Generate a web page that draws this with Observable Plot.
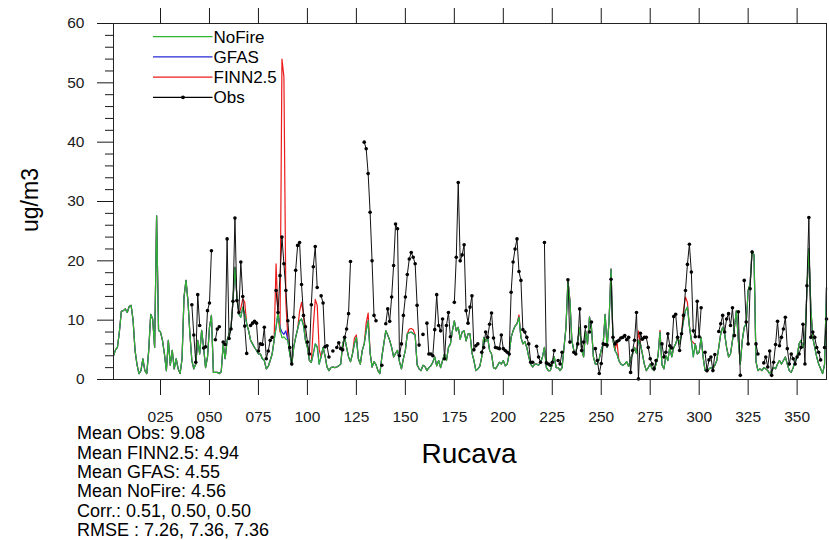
<!DOCTYPE html>
<html><head><meta charset="utf-8">
<script src="https://cdn.jsdelivr.net/npm/d3@7"></script>
<script src="https://cdn.jsdelivr.net/npm/@observablehq/plot@0.6"></script>
<style>
body{margin:0;background:#fff;font-family:"Liberation Sans",Arial,Helvetica,sans-serif;}
#wrap{position:relative;width:829px;height:540px;overflow:hidden;background:#fff;}
#wrap svg{position:absolute;left:0;top:0;}
</style></head><body><div id="wrap"></div>
<script>
// Daily values, day 1..365
const nofire = [4,5,5.4,8,11.5,11.6,11.9,11.3,12.3,12.5,
10,4.9,2.5,1,1.5,3.5,1.5,1,5,11,
10.2,5.4,27.6,8.3,8,6.6,4.3,1.5,6.6,2.4,
4.9,1.8,3.5,1.8,1,3.5,13.9,16.7,13.3,7.7,
3.2,1.8,2.6,6.6,4.3,8.3,5.4,2,3.8,8.8,
10.8,1.2,1.2,1.2,1,1.3,6,3.5,6.6,7.7,
8.8,13.3,18.9,14,11,10.5,12.2,11,9.4,8.2,
6.6,6,5.4,4.9,4.3,4.3,3.5,3.2,1.8,2.2,
3.2,4.3,6.6,8.8,11.3,8.5,7,7.2,6.8,6.6,
4.3,2.4,5.4,7.1,8.5,9.9,10.2,9.1,6.6,5.4,
3.2,2.9,4.3,6,5.5,2.6,3.8,5.4,4,2.1,
1.5,2,2.1,2,2.1,2.3,2.6,6,7.1,5.4,
3.8,3,4.3,6,7.1,3.5,2.6,4.9,6,8.2,
9.9,4.5,2.1,3,2.5,1.5,1,3.8,6,8.2,
7.5,6.6,5.4,3.8,4.4,4.9,3,1.8,3.5,4.9,
7.7,7.9,8,7.7,7.5,2.5,1.8,1.5,2.4,2.2,
1.5,2,2.3,2.9,3.8,2.3,3.2,2,3.2,4.3,
3.2,5.4,6,8.2,9.9,8.2,8.8,6.8,8,8.2,
6.5,7.7,7.7,4.5,3.2,1.5,1.8,2.2,3.8,7.1,
6.4,7.1,4.9,4.3,2,1.8,2.3,2.9,2.6,3.2,
2.3,2.6,4.3,7.1,8.2,9,9.4,10.5,7.1,6,
6.4,5.4,3.8,2.6,2.1,2.6,2.6,2.4,2.9,3.8,
5.4,2,1.5,1.5,2.5,3.8,2,2,1.5,2,
5.4,8.8,16.7,13.3,6.6,4.9,4.3,6.6,8.8,5,
3.8,8.2,6,10.5,8.8,3.8,2.6,2.6,3.5,5,
6,11,5.4,9.9,18.6,6.6,4.9,4.3,3.2,2.6,
2.4,2.6,3,2.2,3.5,4.3,5.4,4.4,6.6,6,
4.3,2.6,1.5,2,2.6,1.8,1.5,2.6,4,8,
2.5,1.8,4,3.2,5.4,3.8,5.4,6,7.1,6,
7.7,9.9,11.6,12.2,9,6.6,3.8,6,4.3,4.6,
7.1,3.8,1.5,1.3,1.8,2,1.8,2.4,3.2,5.4,
7.7,8.8,7.7,5.4,3.8,4.3,6.6,8.8,11.6,6.6,
2.6,6.6,8.8,9.4,15,16.1,21.7,21,3,1.5,
1.8,1.5,2,1.8,1.5,1,1.5,2,1.8,2.6,
3.2,2.6,3.2,3.8,2.6,1.5,1.2,2,3.2,3.8,
6,6.6,5.4,6.6,15,22,12,7,5.4,3.8,
2.6,1.8,1,2.5,15.5];

const gfas = [4,5,5.4,8,11.5,11.6,11.9,11.3,12.3,12.5,
10,4.9,2.5,1,1.5,3.5,1.5,1,5,11,
10.2,5.4,27.6,8.3,8,6.6,4.3,1.5,6.6,2.4,
4.9,1.8,3.5,1.8,1,3.5,13.9,16.7,13.3,7.7,
3.2,1.8,2.6,6.6,4.3,8.3,5.4,2,3.8,8.8,
10.8,1.2,1.2,1.2,1,1.3,6,3.5,6.6,7.7,
8.8,13.3,18.9,14,11,10.5,12.2,11,9.4,8.2,
6.6,6,5.4,4.9,4.3,4.3,3.5,3.2,1.8,2.2,
3.2,4.3,6.6,8.8,11.3,8.8,8,7.6,8.2,6.6,
4.3,2.4,5.4,7.1,8.5,9.9,10.2,9.1,6.6,5.4,
3.2,2.9,4.3,6,5.5,2.6,3.8,5.4,4,2.1,
1.5,2,2.1,2,2.1,2.3,2.6,6,7.1,5.4,
3.8,3,4.3,6,7.1,3.5,2.6,4.9,6,8.2,
9.9,4.5,2.1,3,2.5,1.5,1,3.8,6,8.2,
7.5,6.6,5.4,3.8,4.4,4.9,3,1.8,3.5,4.9,
7.7,7.9,8,7.7,7.5,2.5,1.8,1.5,2.4,2.2,
1.5,2,2.3,2.9,3.8,2.3,3.2,2,3.2,4.3,
3.2,5.4,6,8.2,9.9,8.2,8.8,6.8,8,8.2,
6.5,7.7,7.7,4.5,3.2,1.5,1.8,2.2,3.8,7.1,
6.4,7.1,4.9,4.3,2,1.8,2.3,2.9,2.6,3.2,
2.3,2.6,4.3,7.1,8.2,9,9.4,10.5,7.1,6,
6.4,5.4,3.8,2.6,2.1,2.6,2.6,2.4,2.9,3.8,
5.4,2,1.5,1.5,2.5,3.8,2,2,1.5,2,
5.4,8.8,16.7,13.3,6.6,4.9,4.3,6.6,8.8,5,
3.8,8.2,6,10.5,8.8,3.8,2.6,2.6,3.5,5,
6,11,5.4,9.9,18.6,6.6,4.9,4.3,3.2,2.6,
2.4,2.6,3,2.2,3.5,4.3,5.4,4.4,6.6,6,
4.3,2.6,1.5,2,2.6,1.8,1.5,2.6,4,8,
2.5,1.8,4,3.2,5.4,3.8,5.4,6,7.1,6,
7.7,9.9,11.6,12.2,9,6.6,3.8,6,4.3,4.6,
7.1,3.8,1.5,1.3,1.8,2,1.8,2.4,3.2,5.4,
7.7,8.8,7.7,5.4,3.8,4.3,6.6,8.8,11.6,6.6,
2.6,6.6,8.8,9.4,15,16.1,21.7,21,3,1.5,
1.8,1.5,2,1.8,1.5,1,1.5,2,1.8,2.6,
3.2,2.6,3.2,3.8,2.6,1.5,1.2,2,3.2,3.8,
6,6.6,5.4,6.6,15,22,12,7,5.4,3.8,
2.6,1.8,1,2.5,15.5];

const finn = [4,5,5.4,8,11.5,11.6,11.9,11.3,12.3,12.5,
10,4.9,2.5,1,1.5,3.5,1.5,1,5,11,
10.2,5.4,27.6,8.3,8,6.6,4.3,1.5,6.6,2.4,
4.9,1.8,3.5,1.8,1,3.5,13.9,16.7,13.3,7.7,
3.2,1.8,2.6,6.6,4.3,8.3,5.4,2,3.8,8.8,
10.8,1.2,1.2,1.2,1,1.3,6,3.5,6.6,7.7,
8.8,13.3,18.9,14,11,12,13.6,13,9.4,8.2,
6.6,6,5.4,4.9,4.3,4.3,3.5,3.2,1.8,2.2,
3.2,4.3,6.6,19.5,10.5,8,54,51,13,7,
4.3,2.4,5.4,7.1,8.5,11.5,13,11,6.6,5.4,
3.2,2.9,9,13.5,12.5,5,3.8,5.4,4,2.1,
1.5,2,2.1,2,2.1,2.3,2.6,6,7.1,5.4,
3.8,3,4.3,7,7.5,3.5,2.6,4.9,6,9.5,
11.2,4.5,2.1,3,2.5,1.5,1,3.8,6,8.2,
7.5,6.6,5.4,3.8,4.4,4.9,3,1.8,3.5,4.9,
7.7,8.5,8.6,8.4,7.5,2.5,1.8,1.5,2.4,2.2,
1.5,2,2.3,2.9,3.8,2.3,3.2,2,3.2,4.3,
3.2,5.4,6,8.2,9.9,8.2,8.8,6.8,8,8.2,
6.5,7.7,7.7,4.5,3.2,1.5,1.8,2.2,3.8,7.1,
6.4,7.1,4.9,4.3,2,1.8,2.3,2.9,2.6,3.2,
2.3,2.6,4.3,7.1,8.2,9,9.4,10.9,7.1,6,
6.4,5.4,3.8,2.6,2.1,2.6,2.6,2.4,2.9,3.8,
5.4,2,1.5,1.5,2.5,3.8,2,2,1.5,2,
5.4,8.8,16.7,13.3,6.6,4.9,4.3,6.6,8.8,5,
3.8,8.2,6,10.5,8.8,3.8,2.6,2.6,3.5,5,
6,11,5.4,9.9,18.6,6.6,4.9,6.5,3.2,2.6,
2.4,2.6,3,2.2,3.5,4.3,5.4,4.4,8.2,6,
4.3,2.6,1.5,2,2.6,1.8,1.5,2.6,4,8.3,
2.5,1.8,4,3.2,5.4,3.8,5.4,6,7.1,6,
7.7,11.6,13.9,13,9,6.6,6.2,6,4.3,4.6,
7.1,3.8,1.5,1.3,1.8,2,1.8,2.4,3.2,5.4,
7.7,8.8,7.7,5.4,3.8,4.3,6.6,8.8,11.6,6.6,
2.6,6.6,8.8,9.4,15,16.1,21.7,21,3,1.5,
1.8,1.5,2,1.8,1.5,1,1.5,2,1.8,2.6,
3.2,2.6,3.2,3.8,2.6,1.5,1.2,2,3.2,3.8,
6,6.6,5.4,6.6,15,22,12,7,5.4,3.8,
2.6,1.8,1,2.5,15.5];

const obs = [null,null,null,null,null,null,null,null,null,null,
null,null,null,null,null,null,null,null,null,null,
null,null,null,null,null,null,null,null,null,null,
null,null,null,null,null,null,null,null,null,null,
12.6,7.5,2.9,14.3,9.1,null,5.3,5.5,11.6,12.9,
21.7,null,6.7,8.5,8.9,null,6.3,5.9,23.7,6.9,
8.5,13.2,27.2,13.3,11.3,19.8,14,9,4.4,null,
9.1,9.5,9.8,9.5,4.8,6,5.9,8.8,3.5,4.8,
6.6,7.1,null,15,11.3,17.5,24,19.5,15,9.9,
5.4,2.6,10.5,18.4,22.6,23.1,16,10.8,8.9,6.3,
4.3,12.6,19,22.4,15.5,null,14.1,12.9,5.5,5.7,
3.8,null,4.8,null,5.4,6.2,5.2,5,7.1,8.5,
11.1,19.9,null,null,null,null,null,null,40,38.9,
34.7,28.2,20,10.8,9.9,null,null,2.4,null,9.4,
11.9,9.8,13.9,19.2,26.2,25.4,4,6,10.8,13.9,
17.7,20.3,21.4,20.6,19.5,12.5,5.8,null,7.6,null,
9.5,4.3,4.3,4,8.4,14.3,9.1,8.2,10.2,3.5,
9.1,11.3,7.2,null,13,20.6,33.2,20,21,22.7,
11.6,9.5,12.2,14.1,5,5.7,6,null,4.6,5.4,
8,7.1,9.3,11.2,7,5.4,5.3,5.2,7.5,5.2,
4.9,4.6,4.3,14.7,19.8,22,23.7,18.2,16.7,8.4,
8,7.1,6,2.9,2.9,null,5.6,3.8,2.9,null,
23.1,2.8,2.6,2.4,2.9,4.9,null,3.2,2.6,4.6,
null,null,16.8,6.3,null,4.6,4.3,6,11.9,4.9,
6.3,8.9,null,8,9.7,null,5.2,3.2,1,2.7,
6,5.9,5.8,null,16.9,7.1,6,6.4,6.6,7,
7.1,7.4,6.7,7.1,1.2,4.9,6.6,11.3,0.1,7.8,
6.8,7.1,7.1,5.4,3.5,2.6,1.8,3.2,null,null,
6,3.8,4.6,7.7,5.7,5.3,10.6,11,7.1,4.9,
7.7,10.8,15,19.4,22.8,18.1,8.2,7.2,13.2,7.2,
12.1,null,4.6,1.5,3.3,3.8,1.5,4.2,null,8.1,
9.4,10.8,8,10.2,11.1,9.1,12.1,7.4,null,11.4,
0.7,null,16.7,9.7,6,15.3,21.5,null,6,4.3,
null,null,2.8,3.8,2.1,4.8,0.7,2.9,5.9,9.8,
5.7,7.1,8.5,10.5,5.2,2.6,4.3,3.5,2.6,3.8,
4.3,5.4,9.3,2.6,15.8,27.3,7.1,8,7.1,5.4,
4.6,3.3,null,5.4,10.2];

const xTicks = [25,50,75,100,125,150,175,200,225,250,275,300,325,350];
const yTicks = [0,10,20,30,40,50,60];
const yMinor = [2,4,6,8,12,14,16,18,22,24,26,28,32,34,36,38,42,44,46,48,52,54,56,58];
const seriesNames = ["NoFire","GFAS","FINN2.5","Obs"];
const seriesColors = ["#2fb52f","#2727d6","#ec1c1c","#000000"];
const statLines = ["Mean Obs: 9.08","Mean FINN2.5: 4.94","Mean GFAS: 4.55","Mean NoFire: 4.56","Corr.: 0.51, 0.50, 0.50","RMSE : 7.26, 7.36, 7.36"];
const station = "Rucava";
const yTitle = "ug/m3";

const days = d3.range(1, 366);
const table = vals => days.map((d, i) => ({day: d, v: vals[i] == null ? NaN : vals[i]}));

const font = '"Liberation Sans", Arial, Helvetica, sans-serif';
const chart = Plot.plot({
  width: 829, height: 540,
  marginLeft: 113, marginRight: 3, marginTop: 23, marginBottom: 161,
  x: {domain: [1, 365], axis: null},
  y: {domain: [0, 60], axis: null},
  style: {fontFamily: font, fontSize: "15.5px", color: "#1a1a1a", background: "white"},
  marks: [
    Plot.lineY(table(finn), {x: "day", y: "v", stroke: seriesColors[2], strokeWidth: 1.2}),
    Plot.lineY(table(gfas), {x: "day", y: "v", stroke: seriesColors[1], strokeWidth: 1.2}),
    Plot.lineY(table(nofire), {x: "day", y: "v", stroke: seriesColors[0], strokeWidth: 1.2}),
    Plot.lineY(table(obs), {x: "day", y: "v", stroke: "#111", strokeWidth: 1}),
    Plot.dot(table(obs).filter(d => !isNaN(d.v)), {x: "day", y: "v", r: 1.8, fill: "#000", stroke: null}),
    Plot.frame({stroke: "#222", strokeWidth: 1}),
    Plot.axisX({anchor: "bottom", ticks: xTicks, tickSize: 16, tickPadding: 15, tickFormat: d3.format("03d"), label: null}),
    Plot.axisX({anchor: "top", ticks: xTicks, tickSize: 16, tickFormat: () => "", label: null}),
    Plot.axisY({anchor: "left", ticks: yTicks, tickSize: 16, tickPadding: 13, label: null}),
    Plot.axisY({anchor: "left", ticks: yMinor, tickSize: 8, tickFormat: () => "", label: null})
  ]
});
const wrap = document.getElementById("wrap");
wrap.appendChild(chart);

// overlay: legend, titles, statistics
const ns = "http://www.w3.org/2000/svg";
const ov = d3.create("svg").attr("width", 829).attr("height", 540)
  .style("font-family", font).style("pointer-events", "none");
const leg = ov.append("g");
seriesNames.forEach((name, i) => {
  const y = 36.7 + 20.2 * i;
  leg.append("line").attr("x1", 153).attr("x2", 212.5).attr("y1", y).attr("y2", y)
    .attr("stroke", seriesColors[i]).attr("stroke-width", 1.3);
  if (name === "Obs") leg.append("circle").attr("cx", 183).attr("cy", y).attr("r", 1.9).attr("fill", "#000");
  leg.append("text").attr("x", 213.5).attr("y", y + 6).attr("font-size", 17).attr("fill", "#000").text(name);
});
ov.append("text").attr("x", 469).attr("y", 463).attr("text-anchor", "middle")
  .attr("font-size", 28).attr("fill", "#000").text(station);
ov.append("text").attr("transform", "translate(38,200) rotate(-90)").attr("text-anchor", "middle")
  .attr("font-size", 23).attr("fill", "#000").text(yTitle);
statLines.forEach((s, i) => {
  ov.append("text").attr("x", 77).attr("y", 439.3 + 19.35 * i).attr("font-size", 18).attr("fill", "#000").text(s);
});
wrap.appendChild(ov.node());
</script></body></html>
